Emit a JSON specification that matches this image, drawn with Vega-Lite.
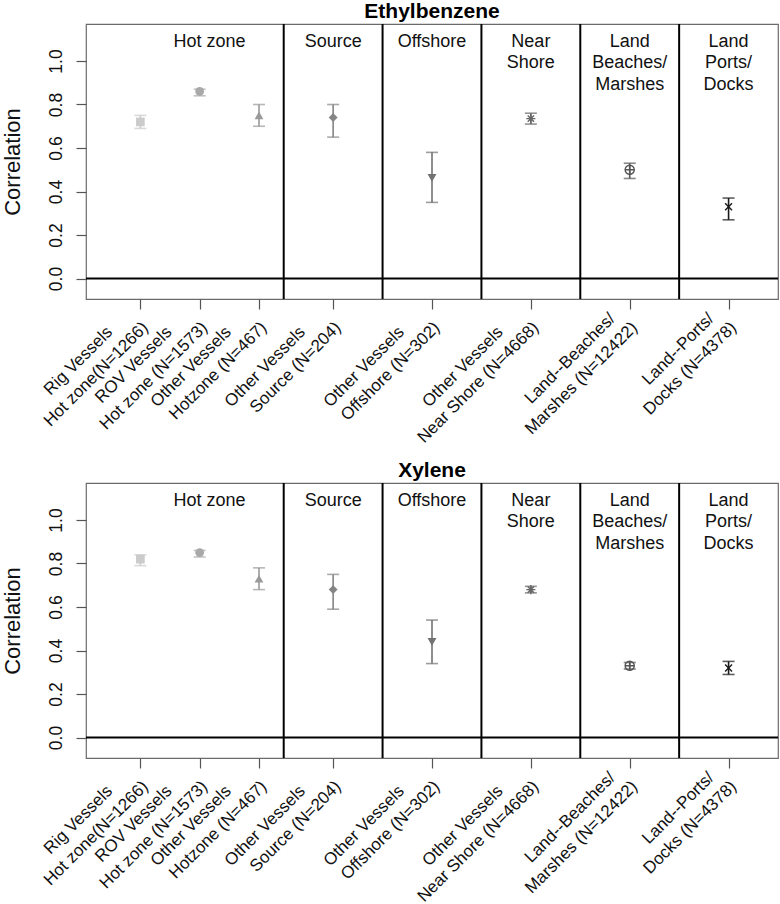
{
  "$schema": "https://vega.github.io/schema/vega-lite/v6.json",
  "padding": {"left": 0, "top": 0, "right": 1, "bottom": 0},
  "datasets": {
    "pts": [
      {"chem": "Ethylbenzene", "item": "Rig", "x": 1.05, "r": 0.72, "lo": 0.69, "hi": 0.75},
      {"chem": "Ethylbenzene", "item": "ROV", "x": 1.65, "r": 0.86, "lo": 0.84, "hi": 0.87},
      {"chem": "Ethylbenzene", "item": "OtherHot", "x": 2.25, "r": 0.75, "lo": 0.70, "hi": 0.80},
      {"chem": "Ethylbenzene", "item": "Source", "x": 3, "r": 0.74, "lo": 0.65, "hi": 0.80},
      {"chem": "Ethylbenzene", "item": "Offshore", "x": 4, "r": 0.463, "lo": 0.35, "hi": 0.58},
      {"chem": "Ethylbenzene", "item": "NearShore", "x": 5, "r": 0.735, "lo": 0.71, "hi": 0.76},
      {"chem": "Ethylbenzene", "item": "Beaches", "x": 6, "r": 0.50, "lo": 0.46, "hi": 0.53},
      {"chem": "Ethylbenzene", "item": "Ports", "x": 7, "r": 0.33, "lo": 0.27, "hi": 0.37},
      {"chem": "Xylene", "item": "Rig", "x": 1.05, "r": 0.82, "lo": 0.79, "hi": 0.84},
      {"chem": "Xylene", "item": "ROV", "x": 1.65, "r": 0.85, "lo": 0.83, "hi": 0.86},
      {"chem": "Xylene", "item": "OtherHot", "x": 2.25, "r": 0.73, "lo": 0.68, "hi": 0.78},
      {"chem": "Xylene", "item": "Source", "x": 3, "r": 0.68, "lo": 0.59, "hi": 0.75},
      {"chem": "Xylene", "item": "Offshore", "x": 4, "r": 0.44, "lo": 0.34, "hi": 0.54},
      {"chem": "Xylene", "item": "NearShore", "x": 5, "r": 0.68, "lo": 0.665, "hi": 0.695},
      {"chem": "Xylene", "item": "Beaches", "x": 6, "r": 0.33, "lo": 0.315, "hi": 0.345},
      {"chem": "Xylene", "item": "Ports", "x": 7, "r": 0.32, "lo": 0.29, "hi": 0.35}
    ],
    "zones": [
      {"x": 1.75, "label": "Hot zone"},
      {"x": 3, "label": "Source"},
      {"x": 4, "label": "Offshore"},
      {"x": 5, "label": "Near\nShore"},
      {"x": 6, "label": "Land\nBeaches/\nMarshes"},
      {"x": 7, "label": "Land\nPorts/\nDocks"}
    ],
    "seps": [{"x": 2.5}, {"x": 3.5}, {"x": 4.5}, {"x": 5.5}, {"x": 6.5}]
  },
  "spacing": 184,
  "bounds": "flush",
  "vconcat": [
    {
      "width": 692, "height": 275,
      "title": {"text": "Ethylbenzene"},
      "layer": [
        {"data": {"name": "seps"}, "mark": {"type": "rule", "color": "#000", "strokeWidth": 2},
         "encoding": {"x": {"field": "x", "type": "quantitative", "scale": {"domain": [0.5, 7.5], "nice": false, "zero": false}, "title": null}}},
        {"data": {"values": [{}]}, "mark": {"type": "rule", "color": "#000", "strokeWidth": 2},
         "encoding": {"y": {"datum": 0, "type": "quantitative", "scale": {"domain": [-0.094, 1.17], "nice": false, "zero": false}}}},
        {"data": {"name": "zones"}, "mark": {"type": "text", "lineBreak": "\n", "font": "Liberation Sans", "fontSize": 18, "align": "center", "baseline": "alphabetic", "lineHeight": 21.5, "color": "#111"},
         "encoding": {"x": {"field": "x", "type": "quantitative", "title": null}, "y": {"datum": 1.066, "type": "quantitative"}, "text": {"field": "label"}}},
        {"data": {"name": "pts"}, "transform": [{"filter": "datum.chem === 'Ethylbenzene'"}],
         "mark": {"type": "rule", "strokeWidth": 1.6},
         "encoding": {"x": {"field": "x", "type": "quantitative", "title": null}, "y": {"field": "lo", "type": "quantitative", "title": "Correlation"}, "y2": {"field": "hi"},
           "color": {"field": "item", "type": "nominal", "legend": null, "scale": {"domain": ["Rig", "ROV", "OtherHot", "Source", "Offshore", "NearShore", "Beaches", "Ports"], "range": ["#cbcbcb", "#a9a9a9", "#999999", "#858585", "#727272", "#666666", "#555555", "#1a1a1a"]}}}},
        {"data": {"name": "pts"}, "transform": [{"filter": "datum.chem === 'Ethylbenzene'"}],
         "mark": {"type": "tick", "orient": "horizontal", "size": 12, "thickness": 1.6},
         "encoding": {"x": {"field": "x", "type": "quantitative", "title": null}, "y": {"field": "lo", "type": "quantitative", "title": "Correlation"}, "color": {"field": "item", "type": "nominal", "legend": null}}},
        {"data": {"name": "pts"}, "transform": [{"filter": "datum.chem === 'Ethylbenzene'"}],
         "mark": {"type": "tick", "orient": "horizontal", "size": 12, "thickness": 1.6},
         "encoding": {"x": {"field": "x", "type": "quantitative", "title": null}, "y": {"field": "hi", "type": "quantitative", "title": "Correlation"}, "color": {"field": "item", "type": "nominal", "legend": null}}},
        {"data": {"name": "pts"}, "transform": [{"filter": "datum.chem === 'Ethylbenzene'"}, {"filter": {"field": "item", "oneOf": ["Rig", "ROV", "OtherHot", "Source", "Offshore"]}}],
         "mark": {"type": "point", "filled": true, "opacity": 1},
         "encoding": {
           "x": {"field": "x", "type": "quantitative", "title": null, "scale": {"domain": [0.5, 7.5], "nice": false, "zero": false},
             "axis": {"values": [1.05, 1.65, 2.25, 3, 4, 5, 6, 7], "labelAngle": -45, "labelAlign": "right", "labelBaseline": "middle", "labelPadding": 0, "labelOffset": -11,
               "labelExpr": "datum.value < 1.3 ? ['Rig Vessels\u00a0\u00a0\u00a0\u00a0\u00a0\u00a0\u200b','Hot zone(N=1266)'] : datum.value < 1.9 ? ['ROV Vessels\u00a0\u00a0\u00a0\u00a0\u00a0\u00a0\u200b','Hot zone (N=1573)'] : datum.value < 2.5 ? ['Other Vessels\u00a0\u00a0\u00a0\u00a0\u00a0\u00a0\u200b','Hotzone (N=467)'] : datum.value < 3.5 ? ['Other Vessels\u00a0\u00a0\u00a0\u00a0\u00a0\u00a0\u200b','Source (N=204)'] : datum.value < 4.5 ? ['Other Vessels\u00a0\u00a0\u00a0\u00a0\u00a0\u00a0\u200b','Offshore (N=302)'] : datum.value < 5.5 ? ['Other Vessels\u00a0\u00a0\u00a0\u00a0\u00a0\u00a0\u200b','Near Shore (N=4668)'] : datum.value < 6.5 ? ['Land--Beaches/\u00a0\u00a0\u200b','Marshes (N=12422)'] : ['Land--Ports/\u00a0\u00a0\u200b','Docks (N=4378)']"}},
           "y": {"field": "r", "type": "quantitative", "title": "Correlation", "scale": {"domain": [-0.094, 1.17], "nice": false, "zero": false},
             "axis": {"values": [0, 0.2, 0.4, 0.6, 0.8, 1.0], "format": ".1f", "labelAngle": -90, "labelAlign": "center", "labelBaseline": "alphabetic"}},
           "color": {"field": "item", "type": "nominal", "legend": null},
           "shape": {"field": "item", "type": "nominal", "legend": null, "scale": {"domain": ["Rig", "ROV", "OtherHot", "Source", "Offshore", "NearShore", "Beaches", "Ports"], "range": ["square", "circle", "triangle-up", "diamond", "triangle-down", "M0,-1L0,1M-1,0L1,0M-0.7,-0.7L0.7,0.7M-0.7,0.7L0.7,-0.7", "M1,0A1,1,0,1,1,-1,0A1,1,0,1,1,1,0M-1,0L1,0M0,-1L0,1", "M-0.75,-0.75L0.75,0.75M-0.75,0.75L0.75,-0.75"]}},
           "size": {"field": "item", "type": "nominal", "legend": null, "scale": {"domain": ["Rig", "ROV", "OtherHot", "Source", "Offshore", "NearShore", "Beaches", "Ports"], "range": [75, 85, 140, 150, 140, 110, 85, 95]}}}},
        {"data": {"name": "pts"}, "transform": [{"filter": "datum.chem === 'Ethylbenzene'"}, {"filter": {"field": "item", "oneOf": ["NearShore", "Beaches", "Ports"]}}],
         "mark": {"type": "point", "filled": false, "opacity": 1, "strokeWidth": 1.4},
         "encoding": {"x": {"field": "x", "type": "quantitative", "title": null}, "y": {"field": "r", "type": "quantitative", "title": "Correlation"},
           "color": {"field": "item", "type": "nominal", "legend": null}, "shape": {"field": "item", "type": "nominal", "legend": null}, "size": {"field": "item", "type": "nominal", "legend": null}}}
      ]
    },
    {
      "width": 692, "height": 275,
      "title": {"text": "Xylene"},
      "layer": [
        {"data": {"name": "seps"}, "mark": {"type": "rule", "color": "#000", "strokeWidth": 2},
         "encoding": {"x": {"field": "x", "type": "quantitative", "scale": {"domain": [0.5, 7.5], "nice": false, "zero": false}, "title": null}}},
        {"data": {"values": [{}]}, "mark": {"type": "rule", "color": "#000", "strokeWidth": 2},
         "encoding": {"y": {"datum": 0, "type": "quantitative", "scale": {"domain": [-0.094, 1.17], "nice": false, "zero": false}}}},
        {"data": {"name": "zones"}, "mark": {"type": "text", "lineBreak": "\n", "font": "Liberation Sans", "fontSize": 18, "align": "center", "baseline": "alphabetic", "lineHeight": 21.5, "color": "#111"},
         "encoding": {"x": {"field": "x", "type": "quantitative", "title": null}, "y": {"datum": 1.066, "type": "quantitative"}, "text": {"field": "label"}}},
        {"data": {"name": "pts"}, "transform": [{"filter": "datum.chem === 'Xylene'"}],
         "mark": {"type": "rule", "strokeWidth": 1.6},
         "encoding": {"x": {"field": "x", "type": "quantitative", "title": null}, "y": {"field": "lo", "type": "quantitative", "title": "Correlation"}, "y2": {"field": "hi"},
           "color": {"field": "item", "type": "nominal", "legend": null, "scale": {"domain": ["Rig", "ROV", "OtherHot", "Source", "Offshore", "NearShore", "Beaches", "Ports"], "range": ["#cbcbcb", "#a9a9a9", "#999999", "#858585", "#727272", "#666666", "#555555", "#1a1a1a"]}}}},
        {"data": {"name": "pts"}, "transform": [{"filter": "datum.chem === 'Xylene'"}],
         "mark": {"type": "tick", "orient": "horizontal", "size": 12, "thickness": 1.6},
         "encoding": {"x": {"field": "x", "type": "quantitative", "title": null}, "y": {"field": "lo", "type": "quantitative", "title": "Correlation"}, "color": {"field": "item", "type": "nominal", "legend": null}}},
        {"data": {"name": "pts"}, "transform": [{"filter": "datum.chem === 'Xylene'"}],
         "mark": {"type": "tick", "orient": "horizontal", "size": 12, "thickness": 1.6},
         "encoding": {"x": {"field": "x", "type": "quantitative", "title": null}, "y": {"field": "hi", "type": "quantitative", "title": "Correlation"}, "color": {"field": "item", "type": "nominal", "legend": null}}},
        {"data": {"name": "pts"}, "transform": [{"filter": "datum.chem === 'Xylene'"}, {"filter": {"field": "item", "oneOf": ["Rig", "ROV", "OtherHot", "Source", "Offshore"]}}],
         "mark": {"type": "point", "filled": true, "opacity": 1},
         "encoding": {
           "x": {"field": "x", "type": "quantitative", "title": null, "scale": {"domain": [0.5, 7.5], "nice": false, "zero": false},
             "axis": {"values": [1.05, 1.65, 2.25, 3, 4, 5, 6, 7], "labelAngle": -45, "labelAlign": "right", "labelBaseline": "middle", "labelPadding": 0, "labelOffset": -11,
               "labelExpr": "datum.value < 1.3 ? ['Rig Vessels\u00a0\u00a0\u00a0\u00a0\u00a0\u00a0\u200b','Hot zone(N=1266)'] : datum.value < 1.9 ? ['ROV Vessels\u00a0\u00a0\u00a0\u00a0\u00a0\u00a0\u200b','Hot zone (N=1573)'] : datum.value < 2.5 ? ['Other Vessels\u00a0\u00a0\u00a0\u00a0\u00a0\u00a0\u200b','Hotzone (N=467)'] : datum.value < 3.5 ? ['Other Vessels\u00a0\u00a0\u00a0\u00a0\u00a0\u00a0\u200b','Source (N=204)'] : datum.value < 4.5 ? ['Other Vessels\u00a0\u00a0\u00a0\u00a0\u00a0\u00a0\u200b','Offshore (N=302)'] : datum.value < 5.5 ? ['Other Vessels\u00a0\u00a0\u00a0\u00a0\u00a0\u00a0\u200b','Near Shore (N=4668)'] : datum.value < 6.5 ? ['Land--Beaches/\u00a0\u00a0\u200b','Marshes (N=12422)'] : ['Land--Ports/\u00a0\u00a0\u200b','Docks (N=4378)']"}},
           "y": {"field": "r", "type": "quantitative", "title": "Correlation", "scale": {"domain": [-0.094, 1.17], "nice": false, "zero": false},
             "axis": {"values": [0, 0.2, 0.4, 0.6, 0.8, 1.0], "format": ".1f", "labelAngle": -90, "labelAlign": "center", "labelBaseline": "alphabetic"}},
           "color": {"field": "item", "type": "nominal", "legend": null},
           "shape": {"field": "item", "type": "nominal", "legend": null, "scale": {"domain": ["Rig", "ROV", "OtherHot", "Source", "Offshore", "NearShore", "Beaches", "Ports"], "range": ["square", "circle", "triangle-up", "diamond", "triangle-down", "M0,-1L0,1M-1,0L1,0M-0.7,-0.7L0.7,0.7M-0.7,0.7L0.7,-0.7", "M1,0A1,1,0,1,1,-1,0A1,1,0,1,1,1,0M-1,0L1,0M0,-1L0,1", "M-0.75,-0.75L0.75,0.75M-0.75,0.75L0.75,-0.75"]}},
           "size": {"field": "item", "type": "nominal", "legend": null, "scale": {"domain": ["Rig", "ROV", "OtherHot", "Source", "Offshore", "NearShore", "Beaches", "Ports"], "range": [75, 85, 140, 150, 140, 110, 85, 95]}}}},
        {"data": {"name": "pts"}, "transform": [{"filter": "datum.chem === 'Xylene'"}, {"filter": {"field": "item", "oneOf": ["NearShore", "Beaches", "Ports"]}}],
         "mark": {"type": "point", "filled": false, "opacity": 1, "strokeWidth": 1.4},
         "encoding": {"x": {"field": "x", "type": "quantitative", "title": null}, "y": {"field": "r", "type": "quantitative", "title": "Correlation"},
           "color": {"field": "item", "type": "nominal", "legend": null}, "shape": {"field": "item", "type": "nominal", "legend": null}, "size": {"field": "item", "type": "nominal", "legend": null}}}
      ]
    }
  ],
  "config": {
    "font": "Liberation Sans",
    "view": {"stroke": "#6b6b6b", "strokeWidth": 1.2},
    "axis": {"grid": false, "domain": false, "tickColor": "#555555", "tickWidth": 1.2, "tickSize": 10, "labelColor": "#111111", "labelFont": "Liberation Sans", "labelFontSize": 17.5, "titleFont": "Liberation Sans", "titleColor": "#111111"},
    "axisX": {"labelFontSize": 17, "labelOverlap": false, "labelBound": false, "labelFlush": false, "labelLineHeight": 22},
    "axisY": {"labelPadding": 15, "titleFontSize": 22, "titleFontWeight": "normal", "titlePadding": 23},
    "title": {"font": "Liberation Sans", "fontSize": 21, "fontWeight": "bold", "color": "#000000", "anchor": "middle", "frame": "group", "baseline": "alphabetic", "offset": 1},
    "legend": {"disable": true}
  }
}
